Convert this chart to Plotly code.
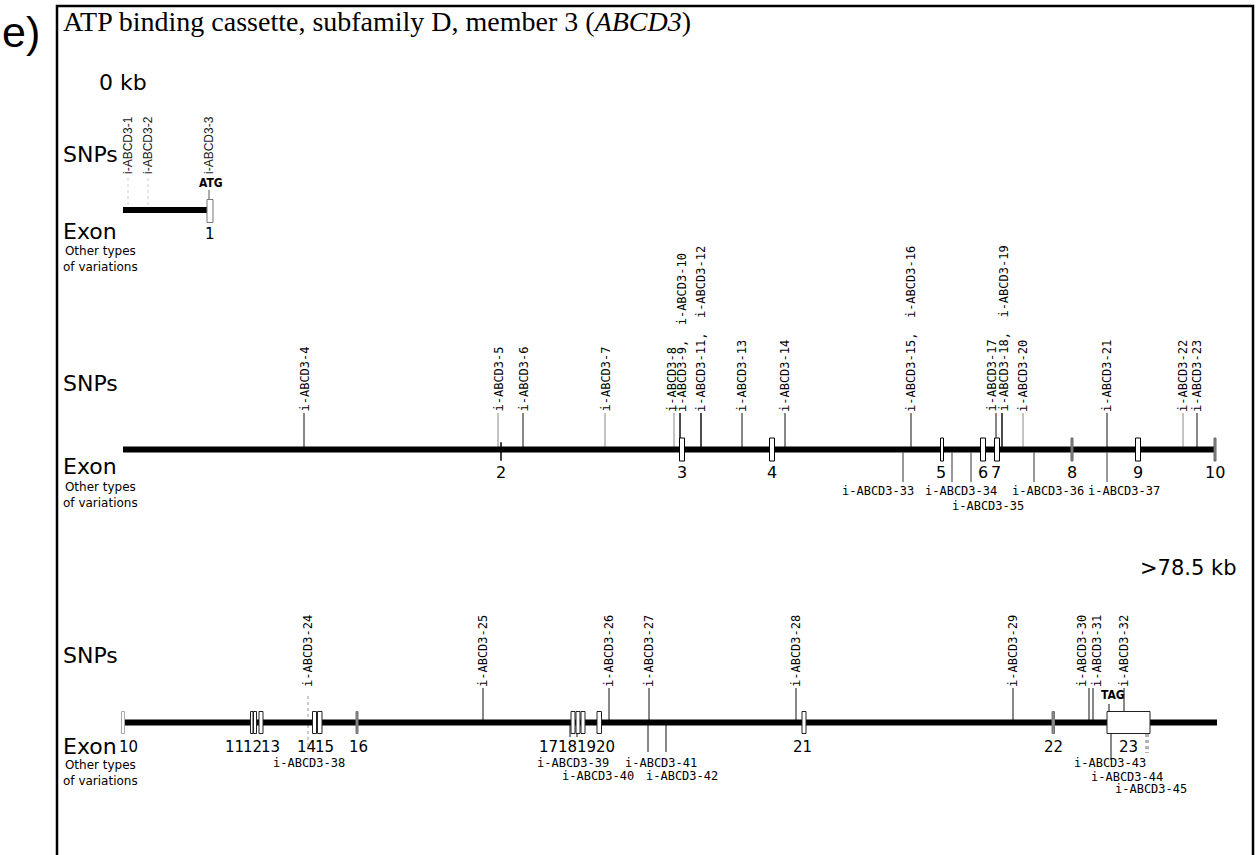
import plotly.graph_objects as go

# ------------------------------------------------------------------ data
panel_letter = "e)"
title_text = "ATP binding cassette, subfamily D, member 3 (<i>ABCD3</i>)"
start_label = "0 kb"
end_label = ">78.5 kb"
row_labels = ["SNPs", "Exon", "Other types<br>of variations"]

# positions are in drawing units along each track
t1_span = [123, 207]
t1_snp_names = ["i-ABCD3-1", "i-ABCD3-2", "i-ABCD3-3"]
t1_snp_pos = [128, 148, 209]
t1_exon_nums = ["1"]
t1_exon_start = [207]
t1_exon_end = [213]

t2_span = [123, 1215]
t2_snp_names = ["i-ABCD3-4", "i-ABCD3-5", "i-ABCD3-6", "i-ABCD3-7", "i-ABCD3-8",
                "i-ABCD3-9", "i-ABCD3-10", "i-ABCD3-11", "i-ABCD3-12", "i-ABCD3-13",
                "i-ABCD3-14", "i-ABCD3-15", "i-ABCD3-16", "i-ABCD3-17", "i-ABCD3-18",
                "i-ABCD3-19", "i-ABCD3-20", "i-ABCD3-21", "i-ABCD3-22", "i-ABCD3-23"]
t2_snp_pos = [304, 498, 523, 605, 674, 680, 680, 701, 701, 742,
              785, 911, 911, 996, 1002, 1002, 1023, 1107, 1183, 1197]
t2_exon_nums = ["2", "3", "4", "5", "6", "7", "8", "9", "10"]
t2_exon_start = [500.5, 679.5, 769.5, 940.5, 980.5, 994.5, 1071, 1135.5, 1214]
t2_exon_end = [501.5, 684.5, 774.5, 943.5, 985.5, 999.5, 1073, 1140.5, 1216]
t2_other_names = ["i-ABCD3-33", "i-ABCD3-34", "i-ABCD3-35", "i-ABCD3-36", "i-ABCD3-37"]
t2_other_pos = [903, 952, 971, 1034, 1107]

t3_span = [123, 1217]
t3_snp_names = ["i-ABCD3-24", "i-ABCD3-25", "i-ABCD3-26", "i-ABCD3-27", "i-ABCD3-28",
                "i-ABCD3-29", "i-ABCD3-30", "i-ABCD3-31", "i-ABCD3-32"]
t3_snp_pos = [308, 483, 609, 649, 796, 1013, 1089, 1093, 1124]
t3_exon_nums = ["10", "11", "12", "13", "14", "15", "16", "17", "18", "19", "20",
                "21", "22", "23"]
t3_exon_start = [121.5, 250.5, 253.5, 259, 312.5, 317.5, 356, 571, 576, 581, 597, 802, 1052, 1107]
t3_exon_end = [124.5, 253, 256.5, 263, 316.5, 322, 358, 575, 580, 585, 601.5, 806, 1054.5, 1150]
t3_other_names = ["i-ABCD3-38", "i-ABCD3-39", "i-ABCD3-40", "i-ABCD3-41", "i-ABCD3-42",
                  "i-ABCD3-43", "i-ABCD3-44", "i-ABCD3-45"]
t3_other_pos = [308, 570, 577, 648, 666, 1111, 1146, 1148]

start_codon = "ATG"
start_codon_pos = 209
stop_codon = "TAG"
stop_codon_pos = 1109

# ------------------------------------------------------------------ layout / style
W, H = 1260, 855
MONO = "DejaVu Sans Mono, Liberation Mono, monospace"
SANS = "DejaVu Sans, Verdana, sans-serif"
ARIAL = "Liberation Sans, Arial, sans-serif"
SERIF = "Liberation Serif, Times New Roman, serif"
NARROW = "Liberation Sans Narrow, DejaVu Sans Condensed, Arial Narrow, sans-serif"

tracks = {
    1: dict(y=210, half=11, label_y=(154, 231, 259), snp_lbl_bottom=175),
    2: dict(y=449.5, half=11.5, label_y=(383, 466, 495), snp_lbl_bottom=413,
            exon_num_y=472, other_row_y=(491, 506)),
    3: dict(y=722.5, half=11, label_y=(655, 746, 773), snp_lbl_bottom=688,
            exon_num_y=747),
}

fig = go.Figure()
shapes = []
annots = []


def add_text(x, y, text, size, family=SANS, xanchor="center", yanchor="middle",
             angle=0, color="black"):
    annots.append(dict(x=x, y=y, xref="x", yref="y", text=text, showarrow=False,
                       xanchor=xanchor, yanchor=yanchor, textangle=angle,
                       font=dict(family=family, size=size, color=color),
                       borderpad=0))


def add_segments(xs, y0s, y1s, color="black", width=1, dash="solid"):
    X, Y = [], []
    for x, a, b in zip(xs, y0s, y1s):
        X += [x, x, None]
        Y += [a, b, None]
    fig.add_trace(go.Scatter(x=X, y=Y, mode="lines", hoverinfo="skip",
                             line=dict(color=color, width=width, dash=dash)))


def add_backbone(span, y):
    fig.add_trace(go.Scatter(x=span, y=[y, y], mode="lines", hoverinfo="skip",
                             line=dict(color="black", width=6)))


def add_exon(x0, x1, yc, half, fill="white", line="black", lw=1):
    shapes.append(dict(type="rect", xref="x", yref="y", x0=x0, x1=x1,
                       y0=yc - half, y1=yc + half, fillcolor=fill,
                       line=dict(color=line, width=lw), layer="above"))


# frame
shapes.append(dict(type="rect", xref="x", yref="y", x0=57, x1=1253, y0=6, y1=880,
                   line=dict(color="black", width=2.5), fillcolor="rgba(0,0,0,0)"))

# header texts
add_text(1, 32, panel_letter, 43, ARIAL, xanchor="left")
add_text(62, 21, title_text, 28, SERIF, xanchor="left")
add_text(98, 82, start_label, 22, SANS, xanchor="left")
add_text(1238, 568, end_label, 21, SANS, xanchor="right")

# row labels
for k, t in tracks.items():
    ys = t["label_y"]
    add_text(62, ys[0], row_labels[0], 22, SANS, xanchor="left")
    add_text(62, ys[1], row_labels[1], 22, SANS, xanchor="left")
    add_text(62, ys[2], row_labels[2], 12, SANS, xanchor="left")

# ---------------- track 1
t = tracks[1]
add_segments(t1_snp_pos[:2], [178] * 2, [206] * 2, color="#cfcfcf", width=1, dash="dot")
add_segments([t1_snp_pos[2]], [190], [199], color="#555", width=1)
add_backbone(t1_span, t["y"])
for s, e in zip(t1_exon_start, t1_exon_end):
    add_exon(s, e, t["y"] + 1, 11.5, line="#777")
for n, p in zip(t1_snp_names, t1_snp_pos):
    add_text(p, t["snp_lbl_bottom"], n, 12, ARIAL, yanchor="bottom", angle=-90,
             color="#222")
add_text(start_codon_pos + 2, 183, "<b>" + start_codon + "</b>", 12, NARROW)
add_text((t1_exon_start[0] + t1_exon_end[0]) / 2, 234, t1_exon_nums[0], 15, SANS)

# ---------------- track 2
t = tracks[2]
grey2 = {"i-ABCD3-5", "i-ABCD3-7", "i-ABCD3-8", "i-ABCD3-20", "i-ABCD3-22",
         "i-ABCD3-15"}
blk = [p for n, p in zip(t2_snp_names, t2_snp_pos) if n not in grey2]
gry = [p for n, p in zip(t2_snp_names, t2_snp_pos) if n in grey2]
add_segments(blk, [t["snp_lbl_bottom"]] * len(blk), [t["y"] - 2] * len(blk), "#111", 1)
add_segments(gry, [t["snp_lbl_bottom"]] * len(gry), [t["y"] - 2] * len(gry), "#888", 1)
add_segments(t2_other_pos, [t["y"] + 3] * len(t2_other_pos),
             [482] * len(t2_other_pos), "#333", 1)
add_backbone(t2_span, t["y"])

exon_style2 = {"2": "tick", "8": "grey", "10": "grey"}
for n, s, e in zip(t2_exon_nums, t2_exon_start, t2_exon_end):
    st = exon_style2.get(n, "box")
    if st == "tick":
        add_exon(s, e, t["y"] + 2, 9, fill="black", line="black", lw=0.5)
    elif st == "grey":
        add_exon(s, e, t["y"], t["half"], fill="#888", line="#666", lw=1)
    else:
        add_exon(s, e, t["y"], t["half"], line="black", lw=1)

# group SNP labels sharing a position
nudge2 = {674: -2.5, 680: 1.5, 996: -4.5, 1002: 1.5}
groups = []
for n, p in zip(t2_snp_names, t2_snp_pos):
    if groups and groups[-1][0] == p:
        groups[-1][1].append(n)
    else:
        groups.append([p, [n]])
for p, names in groups:
    add_text(p + nudge2.get(p, 0), t["snp_lbl_bottom"], ",  ".join(names), 12, MONO,
             yanchor="bottom", angle=-90)

ex_lbl_nudge2 = {"5": -1, "7": -1}
for n, s, e in zip(t2_exon_nums, t2_exon_start, t2_exon_end):
    add_text((s + e) / 2 + ex_lbl_nudge2.get(n, 0), t["exon_num_y"], n, 16, SANS)

other_lbl_x2 = [878, 961, 988, 1048, 1124]
other_row2 = [0, 0, 1, 0, 0]
for n, x, r in zip(t2_other_names, other_lbl_x2, other_row2):
    add_text(x, t["other_row_y"][r], n, 12, MONO)

# ---------------- track 3
t = tracks[3]
snp_lbl_x3 = [308, 483, 609, 649, 796, 1013, 1082, 1097, 1124]
snp_end3 = [t["y"] - 2] * len(t3_snp_pos)
snp_end3[-1] = t["y"] - 10
add_segments(t3_snp_pos[:1], [t["snp_lbl_bottom"] + 8], [t["y"]], "#999", 1, "dot")
add_segments(t3_snp_pos[1:], [t["snp_lbl_bottom"]] * 8, snp_end3[1:], "#111", 1)
for n, x in zip(t3_snp_names, snp_lbl_x3):
    add_text(x, t["snp_lbl_bottom"], n, 12, MONO, yanchor="bottom", angle=-90)

other_top3 = [725, 725, 725, 725, 725, 734, 734, 734]
other_bot3 = [746, 737, 737, 752, 752, 760, 753, 753]
add_segments([t3_other_pos[0]], [other_top3[0]], [other_bot3[0]], "#999", 1, "dot")
add_segments(t3_other_pos[1:6], other_top3[1:6], other_bot3[1:6], "#111", 1)
add_segments(t3_other_pos[6:], other_top3[6:], other_bot3[6:], "#666", 1, "dot")

add_backbone(t3_span, t["y"])
exon_style3 = {"10": "light", "16": "grey", "22": "grey"}
for n, s, e in zip(t3_exon_nums, t3_exon_start, t3_exon_end):
    st = exon_style3.get(n, "box")
    if st == "grey":
        add_exon(s, e, t["y"], t["half"], fill="#888", line="#777", lw=1)
    elif st == "light":
        add_exon(s, e, t["y"], t["half"], fill="white", line="#aaa", lw=1)
    else:
        add_exon(s, e, t["y"], t["half"], line="#222", lw=1)

# stop codon marker
add_segments([stop_codon_pos], [704], [t["y"] - t["half"]], "#111", 1)
add_text(stop_codon_pos + 4, 695, "<b>" + stop_codon + "</b>", 12, NARROW)

exon_lbl_x3 = [128, 234, 252, 270, 306, 324, 358, 548, 567, 586, 605, 802, 1053, 1128]
for n, x in zip(t3_exon_nums, exon_lbl_x3):
    add_text(x, t["exon_num_y"], n, 15, SANS)

other_lbl_x3 = [309, 573, 598, 661, 682, 1110, 1127, 1151]
other_lbl_y3 = [763, 763, 776, 763, 776, 763, 777, 789]
for n, x, y in zip(t3_other_names, other_lbl_x3, other_lbl_y3):
    add_text(x, y, n, 12, MONO)

fig.update_layout(
    width=W, height=H, margin=dict(l=0, r=0, t=0, b=0),
    paper_bgcolor="white", plot_bgcolor="white", showlegend=False,
    xaxis=dict(range=[0, W], visible=False, fixedrange=True),
    yaxis=dict(range=[H, 0], visible=False, fixedrange=True),
    shapes=shapes, annotations=annots,
)
fig.write_html("out.html", config={"displayModeBar": False},
               post_script="document.body.style.margin='0px';"
                           "document.body.style.overflow='hidden';")
